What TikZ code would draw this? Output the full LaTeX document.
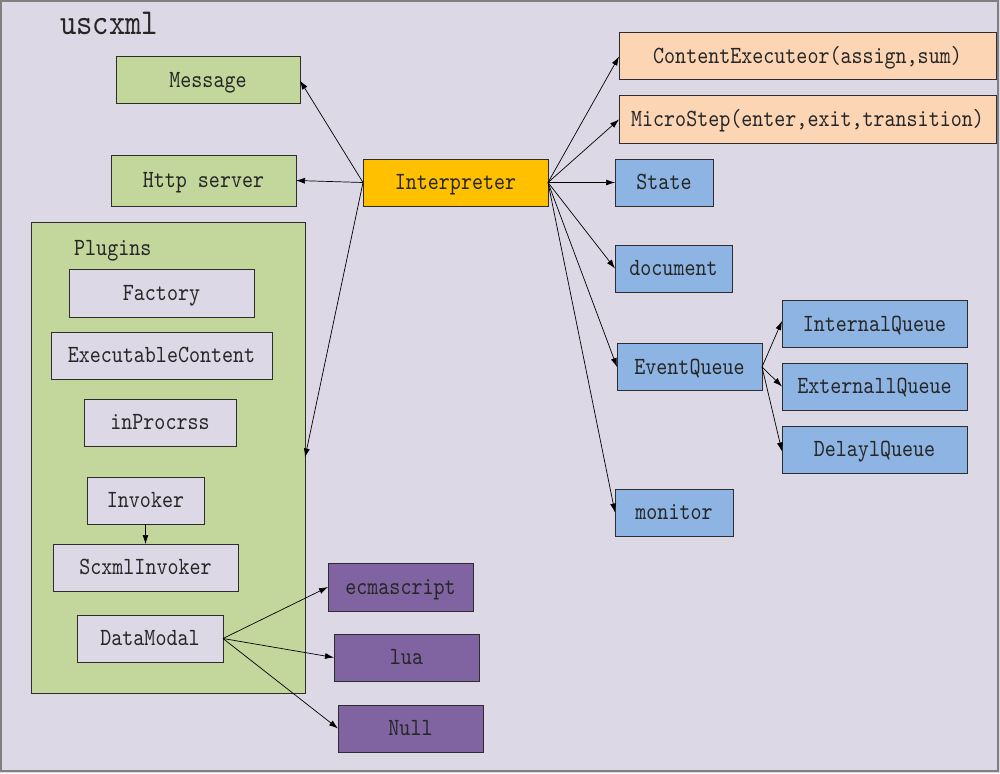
\documentclass[tikz,border=0pt]{standalone}
\usepackage{fontspec}
\newfontfamily\boxfont{lmmono10-regular}[Extension=.otf, FakeStretch=0.85]
\usetikzlibrary{arrows.meta}
\definecolor{bgc}{RGB}{221,216,230}
\definecolor{grn}{RGB}{195,214,155}
\definecolor{pch}{RGB}{252,213,180}
\definecolor{blu}{RGB}{141,180,226}
\definecolor{org}{RGB}{255,192,0}
\definecolor{prp}{RGB}{128,100,162}
\definecolor{edg}{RGB}{45,45,45}
\begin{document}
\begin{tikzpicture}[x=1pt,y=-1pt,
  box/.style={draw=edg, line width=1pt, inner sep=0pt, outer sep=0pt,
    text height=14pt, text depth=0pt,
    font=\boxfont\fontsize{24.7}{26}\selectfont, text=black!85},
  gbox/.style={box, fill=grn},
  lbox/.style={box, fill=bgc},
  pbox/.style={box, fill=pch},
  bbox/.style={box, fill=blu},
  obox/.style={box, fill=org},
  vbox/.style={box, fill=prp},
  arr/.style={-{Latex[length=9pt,width=6pt]}, line width=0.7pt, black}]
\useasboundingbox (0,0) rectangle (1000,773);
\fill[bgc] (0,0) rectangle (1000,773);
\draw[line width=2pt, gray] (1,1) rectangle (998,771);
\node[font=\boxfont\fontsize{36.6}{38}\selectfont, text=black!85, anchor=base west, inner sep=0pt] (title) at (60,35) {uscxml};

% left side
\node[gbox, minimum width=184pt, minimum height=47pt] (msg) at (208,80.5) {Message};
\node[gbox, minimum width=185pt, minimum height=51pt] (http) at (203.5,180.5) {Http server};
\node[gbox, minimum width=274pt, minimum height=471pt] (plug) at (168,457.5) {};
\node[font=\boxfont\fontsize{24.7}{26}\selectfont, text=black!85, anchor=base west, inner sep=0pt] (plabel) at (74,255) {Plugins};
\node[lbox, minimum width=185pt, minimum height=48pt] (fac) at (161.5,293) {Factory};
\node[lbox, minimum width=221pt, minimum height=47pt] (exe) at (161.5,355.5) {ExecutableContent};
\node[lbox, minimum width=152pt, minimum height=47pt] (inp) at (160,422.5) {inProcrss};
\node[lbox, minimum width=117pt, minimum height=47pt] (inv) at (145.5,500.5) {Invoker};
\node[lbox, minimum width=185pt, minimum height=47pt] (scx) at (145.5,567.5) {ScxmlInvoker};
\node[lbox, minimum width=146pt, minimum height=47pt] (dm) at (150,638.5) {DataModal};
\node[vbox, minimum width=145pt, minimum height=48pt] (ecma) at (400.5,587) {ecmascript};
\node[vbox, minimum width=145pt, minimum height=47pt] (lua) at (406.5,657.5) {lua};
\node[vbox, minimum width=145pt, minimum height=47pt] (null) at (410.5,728.5) {Null};

% center
\node[obox, minimum width=185pt, minimum height=47pt] (interp) at (455.5,182.5) {Interpreter};

% right side
\node[pbox, minimum width=377pt, minimum height=47pt] (cont) at (807.5,56.5) {ContentExecuteor(assign,sum)};
\node[pbox, minimum width=377pt, minimum height=47pt] (micro) at (807.5,119.5) {MicroStep(enter,exit,transition)};
\node[bbox, minimum width=98pt, minimum height=47pt] (state) at (664,182.5) {State};
\node[bbox, minimum width=117pt, minimum height=47pt] (doc) at (673.5,268.5) {document};
\node[bbox, minimum width=145pt, minimum height=47pt] (evq) at (689.5,367) {EventQueue};
\node[bbox, minimum width=185pt, minimum height=47pt] (intq) at (874.5,324) {InternalQueue};
\node[bbox, minimum width=185pt, minimum height=47pt] (extq) at (874.5,386.5) {ExternallQueue};
\node[bbox, minimum width=185pt, minimum height=47pt] (delq) at (874.5,449.5) {DelaylQueue};
\node[bbox, minimum width=118pt, minimum height=47pt] (mon) at (674,512.5) {monitor};

% connectors from Interpreter
\coordinate (iL) at (interp.west);
\coordinate (iR) at (interp.east);
\draw[arr] (iL) -- (msg.east);
\draw[arr] (iL) -- (http.east);
\draw[arr] (iL) -- (plug.east);
\draw[arr] (iR) -- (cont.west);
\draw[arr] (iR) -- (micro.west);
\draw[arr] (iR) -- (state.west);
\draw[arr] (iR) -- (doc.west);
\draw[arr] (iR) -- (evq.west);
\draw[arr] (iR) -- (mon.west);
% EventQueue
\draw[arr] (evq.east) -- ([yshift=3pt]intq.west);
\draw[arr] (evq.east) -- (extq.west);
\draw[arr] (evq.east) -- ([yshift=-2pt]delq.west);
% Invoker
\draw[arr] (inv.south) -- (scx.north);
% DataModal
\draw[arr] (dm.east) -- (ecma.west);
\draw[arr] (dm.east) -- (lua.west);
\draw[arr] (dm.east) -- (null.west);
\end{tikzpicture}
\end{document}
